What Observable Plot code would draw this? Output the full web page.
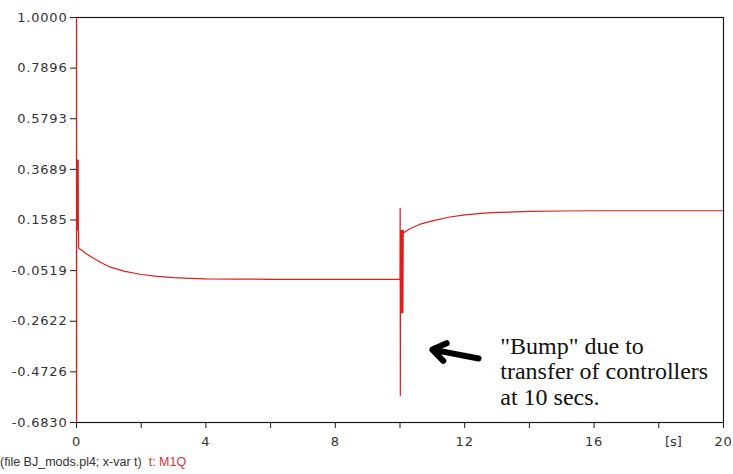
<!DOCTYPE html>
<html>
<head>
<meta charset="utf-8">
<script src="https://cdn.jsdelivr.net/npm/d3@7"></script>
<script src="https://cdn.jsdelivr.net/npm/@observablehq/plot@0.6"></script>
<style>
  body { margin: 0; background: #fff; width: 733px; height: 474px; overflow: hidden; position: relative; }
  #caption { position: absolute; left: 0px; top: 455px; font: 12.5px "Liberation Sans", Arial, sans-serif; color: #333; white-space: pre; }
  #caption .sig { color: #e0302f; }
  svg g[aria-label="y-axis tick label"] text,
  svg g[aria-label="x-axis tick label"] text { letter-spacing: 0.8px; }
</style>
</head>
<body>
<div id="chart"></div>
<div id="caption">(file BJ_mods.pl4; x-var t)  <span class="sig">t: M1Q</span></div>
<script>
// Simulation time [s] and the M1Q trace
const tValues = [
  0, 0.001, 0.004, 0.010, 0.016, 0.022, 0.028, 0.034, 0.040, 0.046, 0.052, 0.058, 0.062, 0.07,
  0.18, 0.3, 0.5, 0.75, 1.0, 1.5, 2.0, 2.5, 3.0, 3.5, 4.0, 5.0, 6.0, 8.0, 10.0,
  10.005, 10.01, 10.02, 10.03, 10.04, 10.05, 10.06, 10.07, 10.08, 10.09, 10.1,
  10.12, 10.3, 10.6, 11.0, 11.5, 12.0, 12.5, 13.0, 14.0, 15.0, 16.0, 18.0, 20.0
];
const qValues = [
  1.0, -0.683, 0.407, 0.116, 0.407, 0.116, 0.407, 0.116, 0.407, 0.116, 0.407, 0.116, 0.116, 0.041,
  0.032, 0.018, 0.002, -0.018, -0.035, -0.055, -0.068, -0.076, -0.081, -0.084, -0.086, -0.087, -0.088, -0.088, -0.088,
  0.207, -0.571, 0.116, -0.226, 0.116, -0.226, 0.116, -0.226, 0.116, -0.226, 0.116,
  0.106, 0.122, 0.140, 0.155, 0.170, 0.180, 0.186, 0.190, 0.194, 0.196, 0.197, 0.197, 0.197
];

// Axis ticks and their labels
const yTickValues = [1.0, 0.7896, 0.5793, 0.3689, 0.1585, -0.0519, -0.2622, -0.4726, -0.683];
const yTickLabels = ["1.0000", "0.7896", "0.5793", "0.3689", "0.1585", "-0.0519", "-0.2622", "-0.4726", "-0.6830"];
const xTickValues = [0, 2, 4, 6, 8, 10, 12, 14, 16, 18, 20];
const xTickLabels = ["0", "", "4", "", "8", "", "12", "", "16", "", "20"];
const xUnitLabel = "[s]";
const xUnitAt = 18.45;

// Annotation
const noteLines = ["\"Bump\" due to", "transfer of controllers", "at 10 secs."];
const notePos = {x: 13.1, y: -0.322};
const arrowTail = {x: 12.43, y: -0.417};
const arrowTip = {x: 11.0, y: -0.380};

const series = tValues.map((t, i) => ({t, q: qValues[i]}));
const yLabel = new Map(yTickValues.map((v, i) => [v, yTickLabels[i]]));
const xLabel = new Map(xTickValues.map((v, i) => [v, xTickLabels[i]]));

const chart = Plot.plot({
  width: 733,
  height: 450,
  marginTop: 17,
  marginBottom: 28,
  marginLeft: 76,
  marginRight: 10,
  style: {background: "white", fontFamily: "'DejaVu Sans', sans-serif", fontSize: "13px", color: "#333", overflow: "visible"},
  x: {domain: [0, 20]},
  y: {domain: [-0.683, 1.0]},
  marks: [
    Plot.frame({stroke: "#1a1a1a", strokeWidth: 1.2}),
    Plot.axisY(yTickValues, {tickSize: 6, tickPadding: 3, tickFormat: d => yLabel.get(d), label: null, stroke: "#1a1a1a"}),
    Plot.axisX(xTickValues, {tickSize: 6, tickPadding: 8, tickFormat: d => xLabel.get(d), label: null, stroke: "#1a1a1a"}),
    // unit label sits on the same line as the x tick labels
    Plot.text([xUnitLabel], {x: () => xUnitAt, frameAnchor: "bottom", lineAnchor: "top", dy: 14, text: d => d, fill: "#333", fontSize: 13}),
    Plot.line(series, {x: "t", y: "q", stroke: "#dc1e1e", strokeWidth: 1.2, clip: true}),
    Plot.arrow([{tail: arrowTail, tip: arrowTip}], {
      x1: d => d.tail.x, y1: d => d.tail.y, x2: d => d.tip.x, y2: d => d.tip.y,
      stroke: "black", strokeWidth: 6, headLength: 8, headAngle: 70, strokeLinejoin: "miter"
    }),
    Plot.text([noteLines.join("\n")], {
      x: () => notePos.x, y: () => notePos.y, text: d => d,
      textAnchor: "start", lineAnchor: "top", lineHeight: 1.06,
      fontFamily: "'Liberation Serif', 'Times New Roman', serif", fontSize: 24, fill: "#111"
    })
  ]
});
document.getElementById("chart").append(chart);
</script>
</body>
</html>
